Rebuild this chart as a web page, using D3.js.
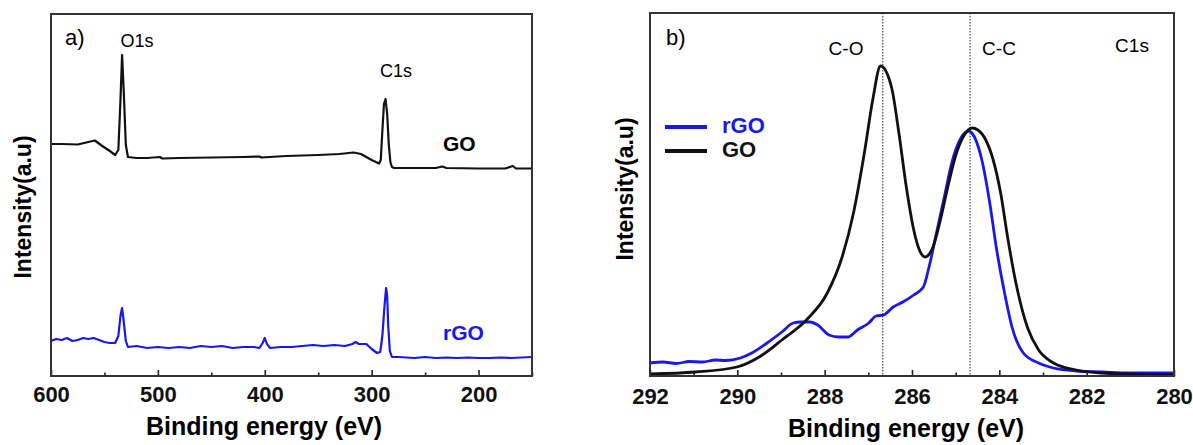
<!DOCTYPE html>
<html>
<head>
<meta charset="utf-8">
<script src="https://cdn.jsdelivr.net/npm/d3@7"></script>
<style>
  body { margin: 0; background: #fff; }
  svg, svg text { font-family: "Liberation Sans", Arial, sans-serif; }
</style>
</head>
<body>
<div id="chart"></div>
<script>
// ---- data ----
// panel a) survey spectrum (binding energy in eV, intensity in a.u.)
const surveyGOEnergy = [600, 590, 575, 565, 559, 552, 545, 540, 537, 535, 533.5, 532, 530, 528, 520, 510, 498, 496, 480, 450, 420, 405, 403, 380, 350, 330, 317, 310, 300, 293, 291.5, 290, 288.5, 287, 285.5, 284, 282.5, 281, 279, 260, 240, 234, 230, 200, 175, 168, 165, 150];
const surveyGO = [232, 232, 231.5, 234, 235.5, 230, 225, 221, 226, 276, 321, 286, 231, 219, 218, 218, 219, 217.5, 218, 218.5, 219, 219.5, 218.5, 220, 221, 222, 223.5, 222, 216, 212.5, 216, 245, 272, 277, 262, 232, 214, 209, 208, 208, 208, 209.5, 208, 207.5, 207.5, 210, 207.5, 207.5];

const surveyRGOEnergy = [600, 595, 590, 585, 580, 575, 570, 565, 560, 555, 550, 545, 540, 537, 535, 533.5, 532, 530, 528, 520, 510, 500, 490, 480, 470, 460, 450, 440, 430, 420, 410, 405, 402, 400, 398, 395, 385, 375, 365, 355, 345, 335, 325, 318, 315, 312, 305, 300, 295, 292, 290, 288, 286.5, 285.5, 284.5, 283, 281, 275, 260, 250, 240, 230, 220, 210, 200, 190, 180, 170, 160, 150];
const surveyRGO = [35, 37, 36, 38, 35, 36, 38, 37, 38, 36, 34, 33, 33, 40, 60, 68, 55, 35, 29, 30, 28, 29, 28, 29, 28, 30, 29, 30, 28, 29, 29, 28, 33, 38, 32, 28, 29, 29, 30, 31, 30, 31, 30, 32, 34, 32, 32, 27, 23, 24, 40, 70, 88, 80, 50, 25, 19, 19, 18, 19, 18, 18.5, 18, 18.5, 18, 18, 18.5, 18, 18.5, 19];

// panel b) C1s high resolution spectrum
const c1sGOEnergy = [292, 290.96, 290.01, 289.5, 288.98, 288.42, 287.94, 287.6, 287.34, 287.08, 286.9, 286.72, 286.47, 286.3, 286.13, 285.96, 285.83, 285.7, 285.52, 285.35, 285.18, 285.01, 284.83, 284.62, 284.49, 284.31, 284.14, 283.97, 283.8, 283.62, 283.36, 283.1, 282.76, 282.24, 281.64, 281.03, 280];
const c1sGO = [2, 4, 9, 19, 36, 56, 83, 119, 163, 226, 276, 310, 289, 243, 189, 146, 126, 119, 129, 156, 189, 219, 239, 248, 246, 236, 216, 183, 136, 93, 49, 26, 13, 6, 3, 2, 1];

const c1sRGOEnergy = [292, 291.7, 291.4, 291.1, 290.8, 290.5, 290.27, 289.93, 289.67, 289.32, 288.98, 288.72, 288.55, 288.33, 288.16, 287.9, 287.68, 287.47, 287.25, 286.99, 286.82, 286.65, 286.43, 286.21, 285.96, 285.74, 285.61, 285.44, 285.26, 285.09, 284.88, 284.7, 284.57, 284.4, 284.23, 284.06, 283.88, 283.71, 283.45, 283.1, 282.76, 282.24, 281.64, 281.03, 280];
const c1sRGO = [13, 14, 12.5, 14.5, 14, 16, 15.5, 18, 23, 33, 44, 53, 54, 54, 51, 41, 39, 39, 46, 53, 60, 61, 69, 74, 81, 89, 109, 143, 179, 213, 238, 245, 239, 216, 176, 126, 83, 49, 23, 13, 8, 5, 4, 3, 3];

// peak positions marked by dotted lines in panel b)
const peakLines = [286.67, 284.67];

// tick values
const surveyTicks = [600, 500, 400, 300, 200];
const surveyMinor = [550, 450, 350, 250, 150];
const c1sTicks = [292, 290, 288, 286, 284, 282, 280];
const c1sMinor = [291, 289, 287, 285, 283, 281];

const blue = "#1717ee";
const black = "#111";
const font = '"Liberation Sans", Arial, sans-serif';

const svg = d3.select("#chart")
    .append("svg")
    .attr("width", 1193)
    .attr("height", 445);

// draw a framed panel with inward bottom ticks
function panel(box, xDomain, yMax, major, minor, id) {
    const x = d3.scaleLinear().domain(xDomain).range([box.left, box.right]);
    const y = d3.scaleLinear().domain([0, yMax]).range([box.bottom, box.top]);

    svg.append("clipPath").attr("id", id)
        .append("rect")
        .attr("x", box.left).attr("y", box.top)
        .attr("width", box.right - box.left)
        .attr("height", box.bottom - box.top);

    const g = svg.append("g");

    // major ticks + labels
    const ax = g.append("g")
        .attr("transform", `translate(0,${box.bottom})`)
        .call(d3.axisBottom(x).tickValues(major).tickSize(-6).tickPadding(0).tickFormat(d3.format("d")));
    ax.attr("font-family", font);
    ax.select(".domain").remove();
    ax.selectAll(".tick line").attr("stroke", "#222").attr("stroke-width", 1.6);
    ax.selectAll(".tick text")
        .attr("y", box.labelY)
        .attr("dy", null)
        .attr("fill", "#111")
        .style("font-family", font)
        .style("font-size", "22px")
        .style("font-weight", "bold");

    // minor ticks
    const mn = g.append("g")
        .attr("transform", `translate(0,${box.bottom})`)
        .call(d3.axisBottom(x).tickValues(minor).tickSize(-3.5).tickFormat(""));
    mn.select(".domain").remove();
    mn.selectAll(".tick line").attr("stroke", "#222").attr("stroke-width", 1.6);

    return { x, y, g };
}

// ---- panel a ----
const boxA = { left: 51, right: 532, top: 14, bottom: 376, labelY: 26 };
const pa = panel(boxA, [600, 150], 362, surveyTicks, surveyMinor, "clipA");

const lineA = d3.line()
    .x(d => pa.x(d[0]))
    .y(d => pa.y(d[1]));

pa.g.append("path")
    .datum(d3.zip(surveyGOEnergy, surveyGO))
    .attr("clip-path", "url(#clipA)")
    .attr("fill", "none")
    .attr("stroke", black)
    .attr("stroke-width", 2.2)
    .attr("stroke-linejoin", "round")
    .attr("d", lineA);

pa.g.append("path")
    .datum(d3.zip(surveyRGOEnergy, surveyRGO))
    .attr("clip-path", "url(#clipA)")
    .attr("fill", "none")
    .attr("stroke", blue)
    .attr("stroke-width", 2.2)
    .attr("stroke-linejoin", "round")
    .attr("d", lineA);

pa.g.append("rect")
    .attr("x", boxA.left).attr("y", boxA.top)
    .attr("width", boxA.right - boxA.left)
    .attr("height", boxA.bottom - boxA.top)
    .attr("fill", "none")
    .attr("stroke", "#333")
    .attr("stroke-width", 2);

pa.g.append("text").attr("x", 65).attr("y", 45).style("font-size", "22px").text("a)");
pa.g.append("text").attr("x", 137).attr("y", 47).attr("text-anchor", "middle").style("font-size", "18px").text("O1s");
pa.g.append("text").attr("x", 396).attr("y", 77).attr("text-anchor", "middle").style("font-size", "18px").text("C1s");
pa.g.append("text").attr("x", 443).attr("y", 151).style("font-size", "21px").style("font-weight", "bold").text("GO");
pa.g.append("text").attr("x", 443).attr("y", 340).attr("fill", blue).style("font-size", "21px").style("font-weight", "bold").text("rGO");

pa.g.append("text")
    .attr("x", 264).attr("y", 435)
    .attr("text-anchor", "middle")
    .style("font-size", "25px").style("font-weight", "bold")
    .text("Binding energy (eV)");

pa.g.append("text")
    .attr("transform", "translate(31,207) rotate(-90)")
    .attr("text-anchor", "middle")
    .style("font-size", "23px").style("font-weight", "bold")
    .text("Intensity(a.u)");

// ---- panel b ----
const boxB = { left: 650, right: 1174, top: 13, bottom: 376, labelY: 28 };
const pb = panel(boxB, [292, 280], 363, c1sTicks, c1sMinor, "clipB");

// dotted peak markers
pb.g.selectAll(".peak")
    .data(peakLines)
    .join("line")
    .attr("x1", d => pb.x(d)).attr("x2", d => pb.x(d))
    .attr("y1", boxB.top).attr("y2", boxB.bottom)
    .attr("stroke", "#555")
    .attr("stroke-width", 1.3)
    .attr("stroke-dasharray", "1.5,1.5");

const lineB = d3.line()
    .x(d => pb.x(d[0]))
    .y(d => pb.y(d[1]))
    .curve(d3.curveMonotoneX);

pb.g.append("path")
    .datum(d3.zip(c1sRGOEnergy, c1sRGO))
    .attr("clip-path", "url(#clipB)")
    .attr("fill", "none")
    .attr("stroke", blue)
    .attr("stroke-width", 2.8)
    .attr("d", lineB);

pb.g.append("path")
    .datum(d3.zip(c1sGOEnergy, c1sGO))
    .attr("clip-path", "url(#clipB)")
    .attr("fill", "none")
    .attr("stroke", black)
    .attr("stroke-width", 2.8)
    .attr("d", lineB);

pb.g.append("rect")
    .attr("x", boxB.left).attr("y", boxB.top)
    .attr("width", boxB.right - boxB.left)
    .attr("height", boxB.bottom - boxB.top)
    .attr("fill", "none")
    .attr("stroke", "#333")
    .attr("stroke-width", 2);

pb.g.append("text").attr("x", 666).attr("y", 45).style("font-size", "22px").text("b)");
pb.g.append("text").attr("x", 846).attr("y", 55).attr("text-anchor", "middle").style("font-size", "19px").text("C-O");
pb.g.append("text").attr("x", 999).attr("y", 55).attr("text-anchor", "middle").style("font-size", "19px").text("C-C");
pb.g.append("text").attr("x", 1132).attr("y", 52).attr("text-anchor", "middle").style("font-size", "19px").text("C1s");

// legend
const legend = [
    { name: "rGO", color: blue, y: 127 },
    { name: "GO", color: black, y: 151 }
];
const lg = pb.g.selectAll(".lg").data(legend).join("g");
lg.append("line")
    .attr("x1", 665).attr("x2", 707)
    .attr("y1", d => d.y).attr("y2", d => d.y)
    .attr("stroke", d => d.color)
    .attr("stroke-width", 4);
lg.append("text")
    .attr("x", 722).attr("y", d => d.y + 6)
    .attr("fill", d => d.color)
    .style("font-size", "22px").style("font-weight", "bold")
    .text(d => d.name);

pb.g.append("text")
    .attr("x", 906).attr("y", 437)
    .attr("text-anchor", "middle")
    .style("font-size", "25px").style("font-weight", "bold")
    .text("Binding energy (eV)");

pb.g.append("text")
    .attr("transform", "translate(633,189) rotate(-90)")
    .attr("text-anchor", "middle")
    .style("font-size", "23px").style("font-weight", "bold")
    .text("Intensity(a.u)");
</script>
</body>
</html>
